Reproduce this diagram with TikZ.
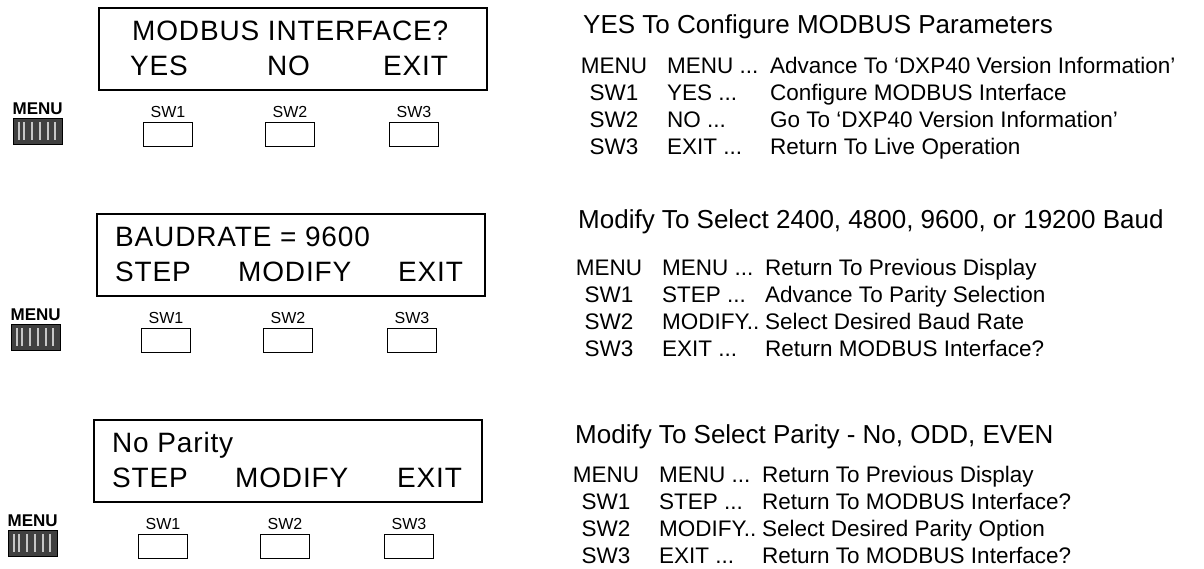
\documentclass[tikz,border=0pt]{standalone}
\usepackage{fontspec}
\setmainfont{Liberation Sans}
\newfontfamily\lcdfont[LetterSpace=3]{Liberation Sans}
\usetikzlibrary{positioning}
\tikzset{
  lcd/.style={draw,line width=1.6pt,minimum width=388pt,minimum height=82pt,inner sep=0pt,anchor=north west},
  lcdtxt/.style={anchor=base west,inner sep=0pt,font=\lcdfont\fontsize{28}{28}\selectfont},
  swlbl/.style={inner sep=0pt,font=\fontsize{16}{16}\selectfont},
  swbtn/.style={draw,line width=1pt,minimum width=49pt,minimum height=24pt,inner sep=0pt},
  menulbl/.style={inner sep=0pt,font=\bfseries\fontsize{17}{17}\selectfont},
  menuicon/.style={draw,fill=black!75,minimum width=49pt,minimum height=26pt,inner sep=0pt,anchor=north west},
  head/.style={anchor=base west,inner sep=0pt,font=\fontsize{26}{26}\selectfont},
  key/.style={anchor=base,inner sep=0pt,font=\fontsize{22.5}{22.5}\selectfont},
  txt/.style={anchor=base west,inner sep=0pt,font=\fontsize{22.5}{22.5}\selectfont},
}
\def\dthree{...}
\def\dtwo{..}

\begin{document}
\begin{tikzpicture}[x=1pt,y=-1pt]
 \useasboundingbox (0,0) rectangle (1204,568);
 % display panel: id, box corner, indent of first line, first line, soft keys
 \def\panel#1#2#3#4#5{
  \node[lcd] (lcd#1) at (#2) {};
  \node[lcdtxt] (top#1) at ([shift={(#3,33)}]lcd#1.north west) {#4};
  \foreach \dx/\t [count=\i] in {#5}{\node[lcdtxt] (soft#1\i) at ([shift={(\dx,68)}]lcd#1.north west) {\t};}
  \foreach \dx [count=\i] in {70,192,316}{
   \node[swbtn] (btn#1\i) at ([shift={(\dx,127)}]lcd#1.north west) {};
   \node[swlbl,above=4pt of btn#1\i] (sw#1\i) {SW\i};}
  \node[menuicon] (icon#1) at ([shift={(-85,111)}]lcd#1.north west) {};
  \foreach \f in {6,11,19,27,35,42}{\draw[gray!45,line width=1.5pt] ([shift={(\f,4)}]icon#1.north west) -- ([shift={(\f,-4)}]icon#1.south west);}
  \node[menulbl,above=3pt of icon#1] (menu#1) {MENU};
 }
 % key table: id, header base, header, first row offset, rows
 \def\info#1#2#3#4#5{
  \node[head] (hd#1) at (#2) {#3};
  \foreach \k/\c/\d [count=\i] in {#5}{
   \node[key] (k#1\i) at ([shift={(31,{#4+27.3*(\i-1)})}]hd#1.base west) {\k};
   \node[txt] (c#1\i) at ([shift={(84,{#4+27.3*(\i-1)})}]hd#1.base west) {\c};
   \node[txt] (d#1\i) at ([shift={(187,{#4+27.3*(\i-1)})}]hd#1.base west) {\d};}
 }
 \panel{1}{98,7}{34}{MODBUS INTERFACE?}{32/YES,169/NO,285/EXIT}
 \panel{2}{96,213}{19}{BAUDRATE = 9600}{19/STEP,142/MODIFY,302/EXIT}
 \panel{3}{93,419}{19}{No Parity}{19/STEP,142/MODIFY,304/EXIT}
 \info{1}{583,33}{YES To Configure MODBUS Parameters}{40}{MENU/MENU \dthree/Advance To ‘DXP40 Version Information’,SW1/YES \dthree/Configure MODBUS Interface,SW2/NO \dthree/Go To ‘DXP40 Version Information’,SW3/EXIT \dthree/Return To Live Operation}
 \info{2}{578,228}{Modify To Select 2400, 4800, 9600, or 19200 Baud}{47}{MENU/MENU \dthree/Return To Previous Display,SW1/STEP \dthree/Advance To Parity Selection,SW2/MODIFY\dtwo/Select Desired Baud Rate,SW3/EXIT \dthree/Return MODBUS Interface?}
 \info{3}{575,443}{Modify To Select Parity - No, ODD, EVEN}{39}{MENU/MENU \dthree/Return To Previous Display,SW1/STEP \dthree/Return To MODBUS Interface?,SW2/MODIFY\dtwo/Select Desired Parity Option,SW3/EXIT \dthree/Return To MODBUS Interface?}
\end{tikzpicture}
\end{document}
